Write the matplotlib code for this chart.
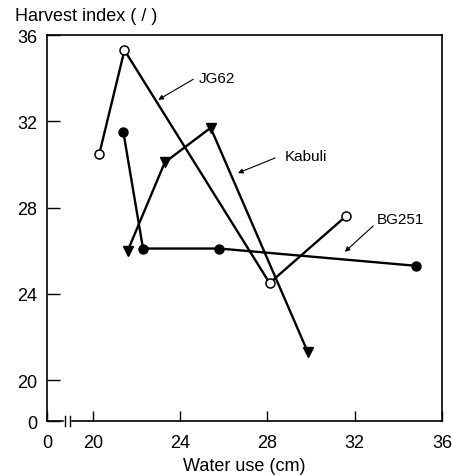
import matplotlib
matplotlib.use("Agg")
import matplotlib.pyplot as plt

# Harvest index vs water use for three chickpea lines
jg62_x = [20.3, 21.45, 28.1, 31.6]
jg62_y = [30.5, 35.3, 24.5, 27.6]

bg251_x = [21.4, 22.3, 25.8, 34.8]
bg251_y = [31.5, 26.1, 26.1, 25.3]

kabuli_x = [21.6, 23.3, 25.4, 29.85]
kabuli_y = [26.0, 30.1, 31.7, 21.3]

x_ticks = [20, 24, 28, 32, 36]
y_ticks = [20, 24, 28, 32, 36]
x_zero = 17.9   # where the broken x axis starts ("0")
y_zero = 18.1   # where the broken y axis starts ("0")

plt.rcParams["font.family"] = ["Liberation Sans", "DejaVu Sans"]

fig = plt.figure(figsize=(4.54, 4.77), dpi=100)
ax = fig.add_axes([0.1035, 0.1153, 0.870, 0.809])

lw = 1.7
ax.plot(jg62_x, jg62_y, color="black", lw=lw, marker="o", ms=6.5,
        mfc="white", mec="black", mew=1.1, zorder=3)
ax.plot(bg251_x, bg251_y, color="black", lw=lw, marker="o", ms=6.5,
        mfc="black", mec="black", zorder=3)
ax.plot(kabuli_x, kabuli_y, color="black", lw=lw, marker="v", ms=7,
        mfc="black", mec="black", zorder=3)

# labels with pointer arrows
arrow = dict(arrowstyle="-|>", color="black", lw=0.8, mutation_scale=7,
             shrinkA=0, shrinkB=0)
ax.annotate("", xy=(23.0, 33.0), xytext=(24.6, 33.95), arrowprops=arrow)
ax.text(24.85, 34.0, "JG62", fontsize=11, va="center", ha="left")
ax.annotate("", xy=(26.65, 29.6), xytext=(28.35, 30.3), arrowprops=arrow)
ax.text(28.8, 30.4, "Kabuli", fontsize=11, va="center", ha="left")
ax.annotate("", xy=(31.55, 25.95), xytext=(32.85, 27.15), arrowprops=arrow)
ax.text(33.0, 27.45, "BG251", fontsize=11, va="center", ha="left")

ax.set_xlim(x_zero, 36)
ax.set_ylim(y_zero, 36)
ax.set_xticks([x_zero] + x_ticks)
ax.set_xticklabels(["0"] + [str(t) for t in x_ticks])
ax.set_yticks([y_zero] + y_ticks)
ax.set_yticklabels(["0"] + [str(t) for t in y_ticks])
ax.tick_params(axis="x", direction="in", length=7, width=1.0, pad=9,
               labelsize=13)
ax.tick_params(axis="y", direction="in", length=9, width=1.0, pad=7,
               labelsize=13)
for s in ax.spines.values():
    s.set_linewidth(1.2)

# break marks on the x axis
xb1, xb2 = 18.72, 18.95
trans = ax.get_xaxis_transform()
ax.plot([xb1 + 0.02, xb2 - 0.02], [0, 0], color="white", lw=2.5,
        transform=trans, clip_on=False, zorder=5)
for xb in (xb1, xb2):
    ax.plot([xb, xb], [-0.012, 0.012], color="black", lw=1.0,
            transform=trans, clip_on=False, zorder=6)

ax.set_xlabel("Water use (cm)", fontsize=13, labelpad=5)
fig.text(0.032, 0.966, "Harvest index ( / )", fontsize=13, va="center", ha="left")

fig.savefig("out.png", dpi=100)
